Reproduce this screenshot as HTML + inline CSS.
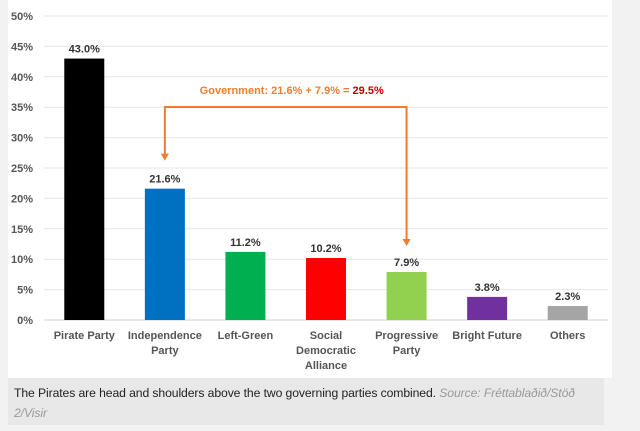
<!DOCTYPE html>
<html><head><meta charset="utf-8"><style>
body{margin:0;width:640px;height:431px;background:#f2f2f2;font-family:"Liberation Sans",sans-serif;overflow:hidden;position:relative}
#panel{position:absolute;left:8px;top:0;width:604px;height:378px;background:#fff}
#cap{position:absolute;left:8px;top:378px;width:596px;height:47px;background:#e8e8e8;padding:5px 0 0 6px;box-sizing:border-box;font-size:12.2px;line-height:20px;color:#222;letter-spacing:-0.1px}
#cap i{color:#999}
</style></head><body>
<div id="panel"></div>
<svg id="chart" width="640" height="378" style="position:absolute;left:0;top:0" font-family="Liberation Sans, sans-serif"></svg>
<div id="cap">The Pirates are head and shoulders above the two governing parties combined. <i>Source: Fréttablaðið/Stöð 2/Visir</i></div>
<script>
const categories=[["Pirate Party"],["Independence","Party"],["Left-Green"],["Social","Democratic","Alliance"],["Progressive","Party"],["Bright Future"],["Others"]];
const values=[43.0,21.6,11.2,10.2,7.9,3.8,2.3];
const colors=["#000000","#0070c0","#00b050","#ff0000","#92d050","#7030a0","#a5a5a5"];
const ticks=[0,5,10,15,20,25,30,35,40,45,50];
const govText="Government: 21.6% + 7.9% = ";const govTotal="29.5%";
const NS="http://www.w3.org/2000/svg";const svg=document.getElementById('chart');
const x0=44,x1=608,y0=320,yTop=16;
const y=v=>y0-(v/50)*(y0-yTop);
const bw=(x1-x0)/categories.length;
const cx=i=>x0+bw*(i+0.5);
function mk(t,a,txt){const e=document.createElementNS(NS,t);for(const k in a)e.setAttribute(k,a[k]);if(txt!==undefined)e.textContent=txt;svg.appendChild(e);return e;}
ticks.forEach(t=>{
 const g=mk('line',{x1:x0,x2:x1,y1:y(t),y2:y(t),stroke:t?'#e6e6e6':'#d0d0d0','stroke-width':1});
 
 
 const l=mk('text',{x:33,y:y(t)+4,'text-anchor':'end','font-size':11,'font-weight':'bold',fill:'#555'},t+'%');
 
 
});
values.forEach((v,i)=>{
 const r=mk('rect',{x:cx(i)-20,y:y(v),width:40,height:y0-y(v),fill:colors[i]});
 
 
 const t=mk('text',{x:cx(i),y:y(v)-6,'text-anchor':'middle','font-size':11,'font-weight':'bold',fill:'#333'},v.toFixed(1)+'%');
 
 
 categories[i].forEach((s,j)=>{
  const c=mk('text',{x:cx(i),y:339+j*15,'text-anchor':'middle','font-size':11,'font-weight':'bold',fill:'#555'},s);
  
  
 });
});
const la=cx(1),ra=cx(4),hy=107,oc='#ed7d31';
const lEnd=y(values[1])-28,rEnd=y(values[4])-26;
const p=mk('path',{d:`M${la} ${lEnd-6} V${hy} H${ra} V${rEnd-6}`,fill:'none',stroke:oc,'stroke-width':2});


[[la,lEnd],[ra,rEnd]].forEach(([ax,ay])=>{
 const h=mk('path',{d:`M${ax-4} ${ay-7} L${ax+4} ${ay-7} L${ax} ${ay} Z`,fill:oc});
 
 
});
const gt=mk('text',{x:(la+ra)/2+6,y:94,'text-anchor':'middle','font-size':11,'font-weight':'bold',fill:oc});


gt.appendChild(document.createTextNode(govText));
const ts=document.createElementNS(NS,'tspan');ts.setAttribute('fill','#c00000');ts.textContent=govTotal;gt.appendChild(ts);
</script>
</body></html>
